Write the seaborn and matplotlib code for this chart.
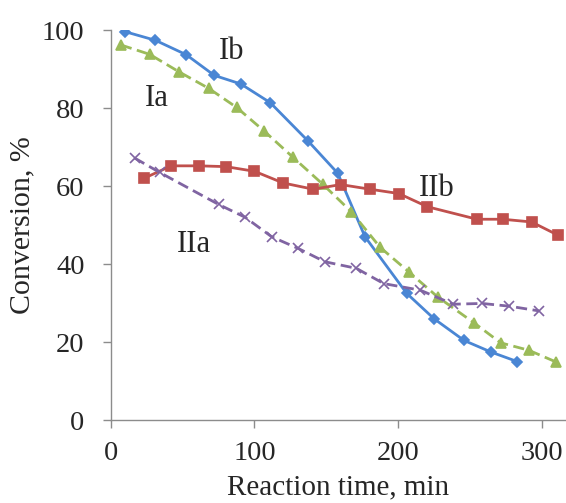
import matplotlib
matplotlib.use("Agg")
import matplotlib.pyplot as plt
import seaborn as sns
import pandas as pd

# series (time in min, conversion in %)
ib_time = [10, 31, 52.5, 72, 90.5, 111, 137.5, 158, 177, 206, 225, 246, 265, 283]
ib_conv = [99.6, 97.4, 93.7, 88.4, 86.2, 81.4, 71.5, 63.3, 47.0, 32.5, 26.0, 20.4, 17.4, 15.0]

ia_time = [7, 27, 47.5, 68, 87.5, 106.5, 126.5, 147.5, 167.5, 187.5, 207.5, 227.5, 253, 271.5, 291, 310]
ia_conv = [96.2, 93.8, 89.3, 85.1, 80.2, 74.2, 67.5, 60.5, 53.4, 44.3, 38.0, 31.6, 24.9, 19.8, 17.9, 14.9]

iib_time = [23, 42, 61, 80, 100, 120, 141, 160, 180.5, 200.5, 220.5, 255, 273, 293, 311.5]
iib_conv = [62.0, 65.2, 65.2, 65.0, 63.8, 60.8, 59.2, 60.4, 59.2, 58.1, 54.7, 51.5, 51.5, 50.8, 47.4]

iia_time = [16.5, 34, 75, 93.5, 112, 130.5, 149, 171, 190, 215.5, 238.5, 258.5, 277.5, 298]
iia_conv = [67.2, 63.5, 55.3, 52.0, 47.0, 44.0, 40.6, 38.9, 35.0, 33.3, 29.7, 29.9, 29.2, 28.0]

series_names = ["Ib", "Ia", "IIb", "IIa"]
label_pos = {"Ib": (84, 94.5), "Ia": (32, 82.5), "IIb": (227, 59.5), "IIa": (58, 45)}

colors = {"Ib": "#4A86D4", "Ia": "#9BBB59", "IIb": "#C0504D", "IIa": "#8064A2"}
markers = {"Ib": "D", "Ia": "^", "IIb": "s", "IIa": "x"}
dashed = {"Ib": False, "Ia": True, "IIb": False, "IIa": True}

frames = []
for name, t, c in [("Ib", ib_time, ib_conv), ("Ia", ia_time, ia_conv),
                   ("IIb", iib_time, iib_conv), ("IIa", iia_time, iia_conv)]:
    frames.append(pd.DataFrame({"time": t, "conversion": c, "series": name}))
df = pd.concat(frames, ignore_index=True)

sns.set_style("white")
plt.rcParams["font.family"] = ["Liberation Serif", "DejaVu Serif"]

fig = plt.figure(figsize=(5.66, 5.03), dpi=100)
ax = fig.add_axes([0.196, 0.165, 0.804, 0.775])

for name in series_names:
    sub = df[df["series"] == name]
    msize = {"Ib": 5.5, "Ia": 7.5, "IIb": 7, "IIa": 7}[name]
    line_ax = sns.lineplot(
        data=sub, x="time", y="conversion", ax=ax, sort=False,
        color=colors[name], marker=markers[name], markersize=msize,
        markeredgecolor=colors[name], markeredgewidth=1.2,
        linewidth=2.0, legend=False,
    )
    if dashed[name]:
        line_ax.lines[-1].set_dashes((4, 2))
    ax.text(*label_pos[name], name, fontsize=22, ha="center", va="center")

ax.set_xlim(0, 317)
ax.set_ylim(0, 100)
ax.set_xticks([0, 100, 200, 300])
ax.set_yticks([0, 20, 40, 60, 80, 100])

for s in ["top", "right"]:
    ax.spines[s].set_visible(False)
for s in ["left", "bottom"]:
    ax.spines[s].set_color("#8C8C8C")
    ax.spines[s].set_linewidth(1.0)

ax.tick_params(axis="both", which="major", direction="out", length=6,
               width=1.0, color="#8C8C8C", labelsize=20.5)
ax.tick_params(axis="y", pad=13)
ax.tick_params(axis="x", pad=9)
ax.tick_params(left=True, bottom=True)

ax.set_xlabel("Reaction time, min", fontsize=21, labelpad=6)
ax.set_ylabel("Conversion, %", fontsize=21.5, labelpad=5)

fig.savefig("out.png", dpi=100)
plt.close(fig)
